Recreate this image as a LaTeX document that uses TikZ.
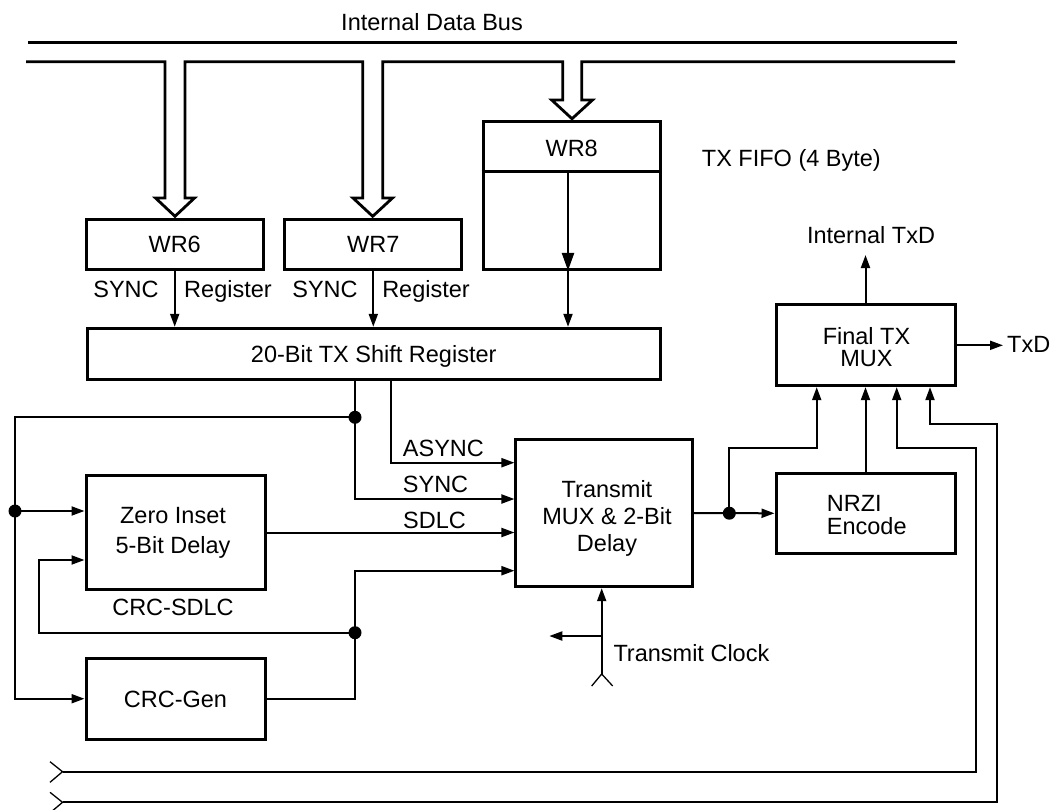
\documentclass[tikz,border=0pt]{standalone}
\usepackage{fontspec}
\setmainfont{Liberation Sans}
\usetikzlibrary{arrows.meta,calc}
\newcommand\lblfont{\fontsize{23.5}{27}\selectfont}
\begin{document}
\begin{tikzpicture}[x=1pt,y=-1pt,
  box/.style={draw,line width=3pt,inner sep=0pt,align=center,font=\lblfont},
  sbox/.style={box,text height=16.8pt,text depth=0pt},
  lbl/.style={inner sep=0pt,font=\lblfont,text height=16.8pt,text depth=0pt},
  mlbl/.style={inner sep=0pt,align=center},
  wire/.style={line width=2pt},
  conn/.style={line width=2pt,-{Triangle[length=13pt,width=9pt]}},
  bigconn/.style={line width=2.7pt,-{Triangle[length=18pt,width=12pt]}},
  bus/.style={line width=2.8pt,line join=miter},
  fork/.style={line width=1.3pt},
]
\useasboundingbox (0,0) rectangle (1051,809);

% boxes
\node[sbox,minimum width=177pt,minimum height=50pt] (wr6) at (174.7,244.3) {WR6};
\node[sbox,minimum width=177pt,minimum height=50pt] (wr7) at (373.3,244.3) {WR7};
\node[box,minimum width=177pt,minimum height=147.5pt] (wr8) at (571.7,195.5) {};
\node[lbl] (wr8t) at (571.7,148.5) {WR8};
\node[sbox,minimum width=573pt,minimum height=51pt] (shift) at (373.7,353.8) {20-Bit TX Shift Register};
\node[box,minimum width=179pt,minimum height=113.6pt] (zero) at (175.5,532.5) {};
\node[mlbl,font=\fontsize{23.5}{29.3}\selectfont] (zerot) at (173,532.8) {Zero Inset\\5-Bit Delay};
\node[sbox,minimum width=179pt,minimum height=80.7pt] (crc) at (175.5,698.7) {CRC-Gen};
\node[box,minimum width=176.7pt,minimum height=147.4pt] (mux) at (604.3,513) {};
\node[mlbl,font=\fontsize{23.5}{27}\selectfont] (muxt) at (607,518.6) {Transmit\\MUX \& 2-Bit\\Delay};
\node[box,minimum width=179pt,minimum height=80pt] (nrzi) at (865.5,513.3) {};
\node[lbl,anchor=west] (nrzit1) at (826.7,502.7) {NRZI};
\node[lbl,anchor=west] (nrzit2) at (826.7,526) {Encode};
\node[box,minimum width=179pt,minimum height=80.7pt] (fmux) at (865.5,345.3) {};
\node[mlbl,font=\fontsize{23.5}{22}\selectfont] (fmuxt) at (866.5,347.2) {Final TX\\MUX};

% WR8 divider
\coordinate (d8) at (0,171.7);
\draw[line width=3pt] (wr8.west |- d8) -- (wr8.east |- d8);

% internal data bus with hollow arrows
\draw[bus] (28,42.7) -- (957,42.7);
\draw[bus] (26,61.7) -- (165,61.7) -- (165,198) -- (155.5,198) -- ($(wr6.north)+(0.3,-1.5)$)
  -- (194.5,198) -- (185,198) -- (185,61.7)
  -- (362.7,61.7) -- (362.7,198) -- (353,198) -- ($(wr7.north)+(-0.6,-1.5)$)
  -- (392.5,198) -- (382.7,198) -- (382.7,61.7)
  -- (562.7,61.7) -- (562.7,100) -- (551.7,100) -- ($(wr8.north)+(0.3,-1.5)$)
  -- (592.5,100) -- (581.7,100) -- (581.7,61.7) -- (955,61.7);

% register outputs to shift register
\draw[conn] (wr6.south) -- (wr6.south |- shift.north);
\draw[conn] (wr7.south) -- (wr7.south |- shift.north);
\coordinate (w8a) at (568,171.7);
\draw[bigconn] (w8a) -- (w8a |- wr8.south);
\draw[conn] (w8a |- wr8.south) -- (w8a |- shift.north);

% junctions and levels
\coordinate (j1) at (355,417.3);
\coordinate (j2) at (15,511);
\coordinate (j3) at (355,632.7);
\coordinate (j4) at (729.3,513.2);
\coordinate (xas) at (390.7,0);
\coordinate (yas) at (0,462.7);
\coordinate (ysy) at (0,499);
\coordinate (y4) at (0,570.7);
\coordinate (k) at (39.3,560);

% shift register outputs
\draw[wire] (j1 |- shift.south) -- (j1);
\draw[conn] (j1) |- (mux.west |- ysy);
\draw[conn] (shift.south -| xas) |- (mux.west |- yas);
\draw[wire] (j1) -| (j2);
\draw[conn] (j2) |- (crc.west);
\draw[conn] (j2) -- (j2 -| zero.west);
\draw[conn] (zero.east) -- (mux.west |- zero.east);
\draw[wire] (crc.east) -| (j3);
\draw[conn] (j3) |- (mux.west |- y4);
\draw[conn] (j3) -| (k) -- (k -| zero.west);

% mux output
\draw[conn] (mux.east) -- (nrzi.west);
\coordinate (f1) at (816.7,447.7);
\draw[conn] (j4) |- (f1) -- (f1 |- fmux.south);
\draw[conn] (nrzi.north) -- (fmux.south);

% return lines from bottom
\coordinate (b1) at (62.5,771.7);
\coordinate (b2) at (62.5,802.3);
\coordinate (r1) at (976,447.7);
\coordinate (r2) at (996.7,424);
\coordinate (f3) at (896.7,447.7);
\coordinate (f4) at (930,424);
\draw[conn] (b1) -| (r1) -- (f3) -- (f3 |- fmux.south);
\draw[conn] (b2) -| (r2) -- (f4) -- (f4 |- fmux.south);
\draw[fork] ($(b1)+(-12.5,-10)$) -- (b1) -- ($(b1)+(-12.5,10.6)$);
\draw[fork] ($(b2)+(-12.5,-10)$) -- (b2) -- ($(b2)+(-12.5,10.6)$);

% transmit clock
\coordinate (tc) at (601.7,674);
\coordinate (tcb) at (601.7,636);
\coordinate (tcl) at (549.3,636);
\draw[conn] (tc) -- (tc |- mux.south);
\draw[conn] (tcb) -- (tcl);
\draw[fork] ($(tc)+(-10,12)$) -- (tc) -- ($(tc)+(11,12)$);

% final mux outputs
\coordinate (itx) at (0,255);
\coordinate (txe) at (1003,0);
\draw[conn] (fmux.north) -- (fmux.north |- itx);
\draw[conn] (fmux.east) -- (fmux.east -| txe);

% dots
\foreach \j in {j1,j2,j3,j4} \fill (\j) circle[radius=6.5pt];

% labels
\node[lbl] (ldb) at (432,21.7) {Internal Data Bus};
\node[lbl,anchor=west] (lfifo) at (701.7,158.3) {TX FIFO (4 Byte)};
\node[lbl] (ls6) at (126,289) {SYNC};
\node[lbl] (lr6) at (228,289) {Register};
\node[lbl] (ls7) at (325,289) {SYNC};
\node[lbl] (lr7) at (426,289) {Register};
\node[lbl,anchor=west] (lasy) at (402.7,448.3) {ASYNC};
\node[lbl,anchor=west] (lsyn) at (402.7,484) {SYNC};
\node[lbl,anchor=west] (lsdl) at (403,520) {SDLC};
\node[lbl] (lcrcs) at (173,607.3) {CRC-SDLC};
\node[lbl,anchor=west] (ltc) at (613.3,652.7) {Transmit Clock};
\node[lbl] (litx) at (871,235) {Internal TxD};
\node[lbl,anchor=west] (ltxd) at (1007,344) {TxD};
\end{tikzpicture}
\end{document}
